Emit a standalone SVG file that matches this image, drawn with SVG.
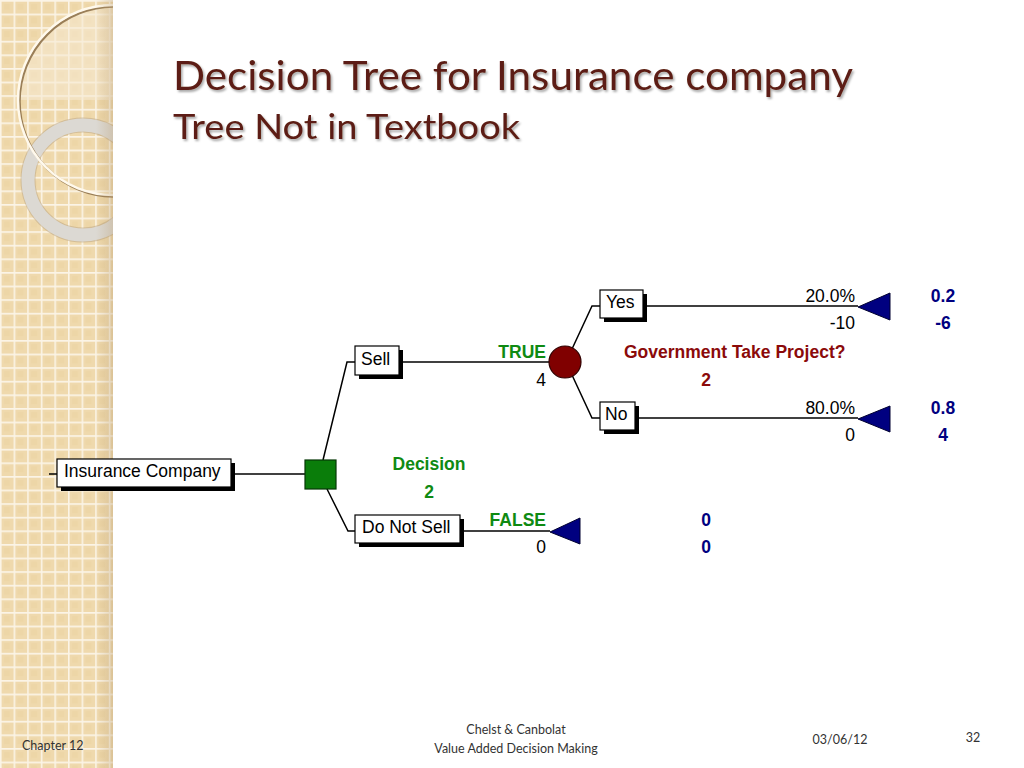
<svg xmlns="http://www.w3.org/2000/svg" width="1024" height="768" viewBox="0 0 1024 768">
<defs>
<pattern id="grid" x="0" y="0" width="13.6" height="13.6" patternUnits="userSpaceOnUse">
<rect width="13.6" height="13.6" fill="#efd9ad"/>
<rect x="4" y="4" width="6" height="6" fill="#ebd3a4" opacity="0.6"/>
<path d="M0 0.8H13.6M0.8 0V13.6" stroke="#fbf4e6" stroke-width="1.6"/>
</pattern>
<linearGradient id="edge" x1="0" y1="0" x2="1" y2="0">
<stop offset="0" stop-color="#b89c70" stop-opacity="0"/>
<stop offset="1" stop-color="#b89c70" stop-opacity="0.35"/>
</linearGradient>
<clipPath id="panel"><rect x="0" y="0" width="113" height="768"/></clipPath>
<filter id="tshadow" x="-5%" y="-20%" width="110%" height="150%">
<feDropShadow dx="1.5" dy="2" stdDeviation="1.2" flood-color="#000" flood-opacity="0.35"/>
</filter>
<style>
.box{fill:#fff;stroke:#000;stroke-width:1.2}
.sh{fill:#000}
.ln{fill:none;stroke:#000;stroke-width:1.5}
.t{font-family:"Liberation Sans",Arial,sans-serif;font-size:17.5px;fill:#000}
.b{font-family:"Liberation Sans",Arial,sans-serif;font-size:17.5px;font-weight:bold}
.g{fill:#0f8a12}
.r{fill:#8b0a0a}
.n{fill:#000080}
.e{text-anchor:end}
.m{text-anchor:middle}
.ttl{font-family:Lato,"Open Sans",sans-serif;fill:#5b1f12}
.ft{font-family:Lato,"Open Sans",sans-serif;font-size:12.5px;fill:#333}
.tri{fill:#000080;stroke:#000030;stroke-width:1}
</style>
</defs>
<rect width="1024" height="768" fill="#fff"/>
<g id="panel-bg" clip-path="url(#panel)">
<rect x="0" y="0" width="113" height="768" fill="url(#grid)"/>
<path d="M18 100 A95 95 0 0 1 113 5 V100 Z" fill="#f6ead2" opacity="0.55"/>
<circle cx="83" cy="180" r="55" fill="none" stroke="#b8a282" stroke-width="15" opacity="0.5"/>
<circle cx="83" cy="180" r="55" fill="none" stroke="#dcd9d3" stroke-width="13"/>
<circle cx="114.5" cy="101.5" r="95" fill="none" stroke="#8a6c44" stroke-width="2.5" opacity="0.85"/>
<circle cx="113" cy="100" r="95" fill="none" stroke="#fff9ec" stroke-width="2.5"/>
<rect x="96" y="0" width="17" height="768" fill="url(#edge)"/>
</g>
<g id="title" filter="url(#tshadow)">
<text class="ttl" x="173" y="90" font-size="40" textLength="680" lengthAdjust="spacingAndGlyphs">Decision Tree for Insurance company</text>
<text class="ttl" x="173" y="139" font-size="34" textLength="347" lengthAdjust="spacingAndGlyphs">Tree Not in Textbook</text>
</g>
<g id="connectors">
<path class="ln" d="M49 474H57"/>
<path class="ln" d="M231 474H305"/>
<path class="ln" d="M323 460L347 362H355"/>
<path class="ln" d="M327 489L348 531H355"/>
<path class="ln" d="M399 362H549"/>
<path class="ln" d="M572 349L592 306H600"/>
<path class="ln" d="M572 375L592 418H600"/>
<path class="ln" d="M643 306H858"/>
<path class="ln" d="M635 418H858"/>
<path class="ln" d="M460 531H550"/>
</g>
<g id="node-insurance">
<rect class="sh" x="61" y="463" width="174" height="28"/>
<rect class="box" x="57" y="459" width="174" height="28"/>
<text class="t" x="64" y="477">Insurance Company</text>
</g>
<g id="node-decision">
<rect x="305" y="460" width="31" height="29" fill="#0a7d0a" stroke="#063806" stroke-width="1.2"/>
<text class="b g m" x="429" y="470">Decision</text>
<text class="b g m" x="429" y="498">2</text>
</g>
<g id="node-sell">
<rect class="sh" x="359" y="350" width="44" height="29"/>
<rect class="box" x="355" y="346" width="44" height="29"/>
<text class="t" x="361" y="365">Sell</text>
<text class="b g e" x="546" y="358">TRUE</text>
<text class="t e" x="546" y="386">4</text>
</g>
<g id="node-chance">
<circle cx="565" cy="362" r="16" fill="#800000" stroke="#300000" stroke-width="1.2"/>
<text class="b r" x="624" y="358">Government Take Project?</text>
<text class="b r m" x="706" y="386">2</text>
</g>
<g id="node-yes">
<rect class="sh" x="604" y="294" width="43" height="28"/>
<rect class="box" x="600" y="290" width="43" height="28"/>
<text class="t" x="606" y="308">Yes</text>
<text class="t e" x="855" y="302">20.0%</text>
<text class="t e" x="855" y="329">-10</text>
</g>
<g id="node-yes-end">
<polygon class="tri" points="858,307 890,293 890,320"/>
<text class="b n m" x="943" y="302">0.2</text>
<text class="b n m" x="943" y="329">-6</text>
</g>
<g id="node-no">
<rect class="sh" x="604" y="406" width="35" height="28"/>
<rect class="box" x="600" y="402" width="35" height="28"/>
<text class="t" x="605" y="420">No</text>
<text class="t e" x="855" y="414">80.0%</text>
<text class="t e" x="855" y="441">0</text>
</g>
<g id="node-no-end">
<polygon class="tri" points="858,419 890,406 890,432"/>
<text class="b n m" x="943" y="414">0.8</text>
<text class="b n m" x="943" y="441">4</text>
</g>
<g id="node-donotsell">
<rect class="sh" x="359" y="519" width="105" height="28"/>
<rect class="box" x="355" y="515" width="105" height="28"/>
<text class="t" x="362" y="533">Do Not Sell</text>
<text class="b g e" x="546" y="526">FALSE</text>
<text class="t e" x="546" y="553">0</text>
</g>
<g id="node-donotsell-end">
<polygon class="tri" points="550,532 580,518 580,544"/>
<text class="b n m" x="706" y="526">0</text>
<text class="b n m" x="706" y="553">0</text>
</g>
<g id="footer">
<text class="ft" x="22" y="750">Chapter 12</text>
<text class="ft m" x="516" y="734">Chelst &amp; Canbolat</text>
<text class="ft m" x="516" y="753">Value Added Decision Making</text>
<text class="ft m" x="840" y="744">03/06/12</text>
<text class="ft m" x="973" y="742">32</text>
</g>
</svg>
